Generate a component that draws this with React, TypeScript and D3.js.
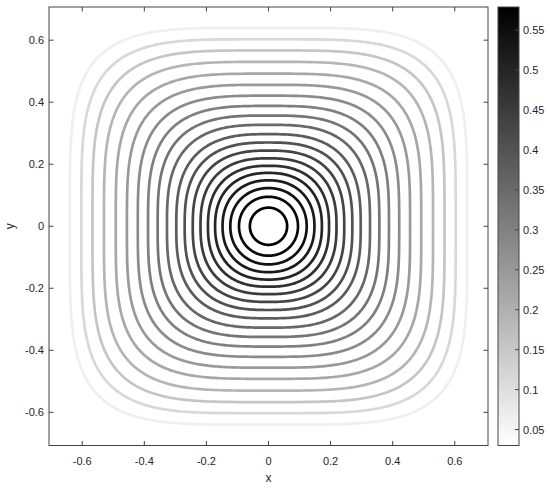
import React from "react";
import * as d3 from "d3";

// contour levels (colour value), half-width on the axes, and squareness (superellipse exponent)
const levels = [0.575, 0.560, 0.540, 0.520, 0.500, 0.475, 0.450, 0.430, 0.405, 0.380,
  0.355, 0.330, 0.305, 0.280, 0.250, 0.220, 0.190, 0.155, 0.115, 0.065];
const halfWidths = [0.060, 0.095, 0.123, 0.148, 0.172, 0.195, 0.219, 0.244, 0.270, 0.297,
  0.327, 0.357, 0.388, 0.421, 0.456, 0.492, 0.530, 0.567, 0.603, 0.640];
const squareness = [2.0, 2.05, 2.1, 2.2, 2.3, 2.4, 2.5, 2.6, 2.7, 2.8,
  2.95, 3.1, 3.25, 3.4, 3.55, 3.7, 3.85, 4.0, 4.2, 4.4];
const axisTicks = [-0.6, -0.4, -0.2, 0, 0.2, 0.4, 0.6];
const cbarTicks = [0.05, 0.1, 0.15, 0.2, 0.25, 0.3, 0.35, 0.4, 0.45, 0.5, 0.55];
const domainXY: [number, number] = [-0.707, 0.707];
const cbarDomain: [number, number] = [0.03, 0.579];

const W = 550, H = 488;
const L = 49, R = 488, T = 7, B = 445.5;
const CBL = 498, CBR = 519;
const FONT = "'Liberation Sans', Arial, Helvetica, sans-serif";
const AX = "#444";
const TXT = "#262626";

export default function App() {
  const x = d3.scaleLinear().domain(domainXY).range([L, R]);
  const y = d3.scaleLinear().domain(domainXY).range([B, T]);
  const c = d3.scaleLinear().domain(cbarDomain).range([B, T]);
  const gray = (v: number) => {
    const t = (v - cbarDomain[0]) / (cbarDomain[1] - cbarDomain[0]);
    return d3.interpolateRgb("#ffffff", "#000000")(Math.max(0, Math.min(1, t)));
  };
  const line = d3.line<[number, number]>().x((d) => x(d[0])).y((d) => y(d[1])).curve(d3.curveLinearClosed);
  const shape = (a: number, n: number) => {
    const pts: [number, number][] = [];
    const N = 480;
    for (let i = 0; i < N; i++) {
      const t = (i / N) * 2 * Math.PI;
      const ct = Math.cos(t), st = Math.sin(t);
      pts.push([a * Math.sign(ct) * Math.pow(Math.abs(ct), 2 / n), a * Math.sign(st) * Math.pow(Math.abs(st), 2 / n)]);
    }
    return line(pts) || "";
  };
  const order = levels.map((_, i) => i).reverse();
  return (
    <svg width={W} height={H} style={{ position: "absolute", left: 0, top: 0, background: "#fff" }} fontFamily={FONT}>
      <defs>
        <linearGradient id="cb" x1="0" y1="1" x2="0" y2="0">
          <stop offset="0%" stopColor="#ffffff" />
          <stop offset="100%" stopColor="#000000" />
        </linearGradient>
        <clipPath id="plot"><rect x={L} y={T} width={R - L} height={B - T} /></clipPath>
      </defs>
      <rect x={0} y={0} width={W} height={H} fill="#fff" />
      <g clipPath="url(#plot)">
        {order.map((i) => (
          <path key={i} d={shape(halfWidths[i], squareness[i])} fill="none" stroke={gray(levels[i])} strokeWidth={2.7} />
        ))}
      </g>
      {/* axes box */}
      <rect x={L} y={T} width={R - L} height={B - T} fill="none" stroke={AX} strokeWidth={1} />
      {axisTicks.map((t) => (
        <g key={"x" + t}>
          <line x1={x(t)} x2={x(t)} y1={B} y2={B - 4.5} stroke={AX} />
          <line x1={x(t)} x2={x(t)} y1={T} y2={T + 4.5} stroke={AX} />
          <text x={x(t)} y={B + 19} fontSize={11} textAnchor="middle" fill={TXT}>{String(t)}</text>
          <line y1={y(t)} y2={y(t)} x1={L} x2={L + 4.5} stroke={AX} />
          <line y1={y(t)} y2={y(t)} x1={R} x2={R - 4.5} stroke={AX} />
          <text x={L - 5} y={y(t) + 4} fontSize={11} textAnchor="end" fill={TXT}>{String(t)}</text>
        </g>
      ))}
      <text x={(L + R) / 2} y={482} fontSize={12} textAnchor="middle" fill={TXT}>x</text>
      <text transform={`translate(14,${(T + B) / 2}) rotate(-90)`} fontSize={12} textAnchor="middle" fill={TXT}>y</text>
      {/* colorbar */}
      <rect x={CBL} y={T} width={CBR - CBL} height={B - T} fill="url(#cb)" stroke={AX} strokeWidth={1} />
      {cbarTicks.map((t) => (
        <g key={"c" + t}>
          <line x1={CBR - 4} x2={CBR} y1={c(t)} y2={c(t)} stroke={AX} />
          <text x={523} y={c(t) + 4} fontSize={11} fill={TXT}>{String(t)}</text>
        </g>
      ))}
    </svg>
  );
}
